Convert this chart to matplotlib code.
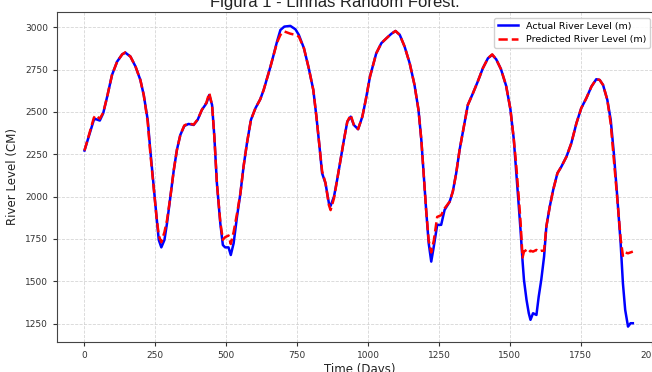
import numpy as np
import matplotlib
matplotlib.use('Agg')
import matplotlib.pyplot as plt

# values
days = [0, 15, 33, 39, 54, 66, 80, 97, 115, 133, 144, 162, 180, 197, 209, 223, 232, 244, 254,
        262, 271, 282, 291, 303, 315, 326, 338, 352, 367, 385, 399, 414, 430, 440, 450, 458,
        467, 479, 488, 496, 508, 516, 526, 538, 550, 561, 573, 587, 603, 620, 632, 644, 656,
        667, 679, 691, 705, 726, 744, 756, 774, 791, 807, 818, 830, 838, 850, 862, 868, 880,
        891, 903, 915, 927, 939, 950, 965, 980, 992, 1007, 1029, 1047, 1065, 1082, 1097, 1112,
        1129, 1147, 1164, 1178, 1188, 1197, 1205, 1214, 1223, 1232, 1244, 1258, 1270, 1288,
        1299, 1311, 1323, 1338, 1352, 1370, 1387, 1405, 1423, 1438, 1452, 1469, 1487, 1502,
        1514, 1522, 1531, 1538, 1545, 1550, 1559, 1567, 1573, 1582, 1594, 1602, 1611, 1621,
        1629, 1641, 1653, 1668, 1682, 1700, 1717, 1735, 1752, 1770, 1788, 1805, 1817, 1829,
        1844, 1856, 1867, 1879, 1891, 1899, 1907, 1917, 1926, 1934]

actual = [2272, 2354, 2453, 2458, 2449, 2492, 2590, 2718, 2797, 2840, 2850, 2827, 2768, 2689,
          2600, 2453, 2276, 2059, 1882, 1744, 1700, 1744, 1842, 2000, 2157, 2276, 2364, 2417,
          2429, 2423, 2453, 2512, 2551, 2600, 2541, 2354, 2079, 1842, 1714, 1700, 1700, 1655,
          1724, 1882, 2020, 2177, 2315, 2453, 2522, 2575, 2630, 2699, 2768, 2837, 2915, 2984,
          3004, 3008, 2988, 2955, 2876, 2758, 2630, 2472, 2276, 2138, 2079, 1961, 1945, 2000,
          2098, 2216, 2334, 2443, 2472, 2423, 2398, 2472, 2571, 2709, 2846, 2906, 2935, 2961,
          2978, 2955, 2886, 2787, 2659, 2512, 2335, 2118, 1921, 1724, 1616, 1705, 1833, 1833,
          1921, 1970, 2029, 2138, 2276, 2413, 2541, 2610, 2679, 2758, 2817, 2837, 2811, 2752,
          2655, 2518, 2340, 2165, 1960, 1800, 1620, 1508, 1390, 1311, 1272, 1311, 1301, 1409,
          1508, 1646, 1823, 1941, 2039, 2138, 2177, 2236, 2315, 2433, 2522, 2581, 2650, 2693,
          2689, 2659, 2571, 2453, 2256, 2000, 1724, 1488, 1331, 1232, 1252, 1252]

predicted = [2272, 2360, 2465, 2480, 2460, 2495, 2590, 2718, 2797, 2840, 2852, 2827, 2768, 2689,
             2600, 2440, 2260, 2050, 1880, 1770, 1730, 1790, 1860, 2000, 2157, 2276, 2364, 2420,
             2432, 2425, 2455, 2512, 2555, 2612, 2541, 2354, 2079, 1850, 1745, 1760, 1770, 1720,
             1790, 1900, 2020, 2177, 2315, 2453, 2522, 2575, 2630, 2699, 2768, 2837, 2910, 2955,
             2975, 2962, 2955, 2945, 2876, 2758, 2630, 2472, 2276, 2150, 2080, 1950, 1920, 1990,
             2098, 2216, 2334, 2443, 2482, 2423, 2398, 2472, 2571, 2709, 2846, 2906, 2935, 2961,
             2978, 2955, 2886, 2787, 2659, 2512, 2335, 2118, 1921, 1740, 1670, 1740, 1880, 1890,
             1930, 1970, 2029, 2138, 2276, 2413, 2541, 2610, 2679, 2758, 2817, 2840, 2811, 2752,
             2655, 2518, 2340, 2200, 2010, 1850, 1640, 1675, 1685, 1670, 1680, 1675, 1685, 1675,
             1680, 1680, 1823, 1941, 2039, 2138, 2177, 2236, 2315, 2433, 2522, 2581, 2650, 2693,
             2689, 2659, 2571, 2430, 2220, 1990, 1750, 1650, 1670, 1665, 1670, 1675]

xticks = [0, 250, 500, 750, 1000, 1250, 1500, 1750, 2000]
yticks = [1250, 1500, 1750, 2000, 2250, 2500, 2750, 3000]


def main():
    fig = plt.figure(figsize=(6.52, 3.72), dpi=100)
    axe = fig.add_axes([0.0874, 0.0806, 0.928, 0.888])

    axe.plot(days, actual, color='blue', lw=1.8, label='Actual River Level (m)')
    axe.plot(days, predicted, color='red', lw=1.8, ls='--', label='Predicted River Level (m)')

    axe.set_xlim(-97, 2037)
    axe.set_ylim(1141, 3092)
    axe.set_xticks(xticks)
    axe.set_yticks(yticks)
    axe.tick_params(labelsize=6.5, colors='#333333', length=3)
    for s in axe.spines.values():
        s.set_color('#444444')

    axe.set_xlabel('Time (Days)', fontsize=8.5, labelpad=2, color='#222222')
    axe.set_ylabel('River Level (CM)', fontsize=8.5, labelpad=4, color='#222222')
    axe.grid(True, ls='--', lw=0.6, color='#cccccc', alpha=0.8)
    axe.legend(loc='upper right', bbox_to_anchor=(0.985, 0.99), fontsize=6.8,
               handlelength=2.2, framealpha=0.9, borderaxespad=0.3)

    fig.text(0.514, 0.982, 'Figura 1 - Linhas Random Forest.', ha='center', va='baseline',
             fontsize=12, family='Liberation Sans', color='#222222')

    fig.savefig('out.png', dpi=100)


if __name__ == '__main__':
    main()
